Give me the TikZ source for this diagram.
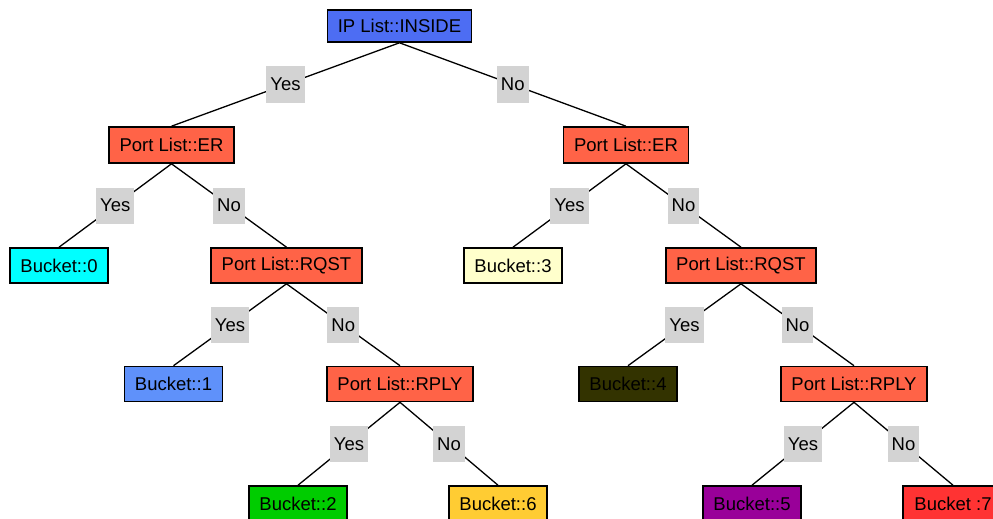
\documentclass[tikz,border=0pt]{standalone}
\usepackage{fontspec}
\setmainfont{Liberation Sans}
\definecolor{rootblue}{RGB}{77,109,243}
\definecolor{testred}{RGB}{255,99,71}
\definecolor{lblgray}{RGB}{211,211,211}
\definecolor{bcyan}{RGB}{0,255,255}
\definecolor{bblue}{RGB}{95,145,250}
\definecolor{bgreen}{RGB}{0,204,0}
\definecolor{bcream}{RGB}{255,255,204}
\definecolor{bolive}{RGB}{51,51,0}
\definecolor{bpurple}{RGB}{153,0,153}
\definecolor{bgold}{RGB}{255,204,51}
\definecolor{bred}{RGB}{255,51,51}
\tikzset{
  box/.style={draw=black, line width=1.6pt, inner xsep=10.5pt, inner ysep=0pt,
    minimum height=35pt, font=\fontsize{18.5}{20}\selectfont, text=black},
  test/.style={box, fill=testred},
  lbl/.style={fill=lblgray, inner xsep=4pt, inner ysep=0pt, minimum height=36pt,
    font=\fontsize{18.5}{20}\selectfont, text=black},
  edge/.style={draw=black, line width=1.3pt}
}
\begin{document}
\begin{tikzpicture}[x=1pt, y=-1pt]
  \useasboundingbox (0,0) rectangle (993,519);
  % decision nodes
  \node[box, fill=rootblue, minimum height=32pt] (root) at (399.5,26) {IP List::INSIDE};
  \node[test, minimum height=36pt] (erL) at (171.5,145) {Port List::ER};
  \node[test, minimum height=36pt] (erR) at (626,145) {Port List::ER};
  \node[test] (rqL) at (286.5,265.5) {Port List::RQST};
  \node[test] (rqR) at (741,265.5) {Port List::RQST};
  \node[test] (rpL) at (400,384) {Port List::RPLY};
  \node[test] (rpR) at (854,384) {Port List::RPLY};
  % leaves
  \node[box, fill=bcyan]   (b0) at (59,265.5)  {Bucket::0};
  \node[box, fill=bcream]  (b3) at (513,265.5) {Bucket::3};
  \node[box, fill=bblue]   (b1) at (173.5,384) {Bucket::1};
  \node[box, fill=bolive]  (b4) at (628,384)   {Bucket::4};
  \node[box, fill=bgreen]  (b2) at (298,503.5) {Bucket::2};
  \node[box, fill=bgold]   (b6) at (498,503.5) {Bucket::6};
  \node[box, fill=bpurple] (b5) at (752,503.5) {Bucket::5};
  \node[box, fill=bred, minimum width=100pt] (b7) at (953,503.5) {Bucket :7};
  % branches with their answers
  \draw[edge] (root.south) -- node[lbl] (y1) {Yes} (erL.north);
  \draw[edge] (root.south) -- node[lbl] (n1) {No} (erR.north);
  \draw[edge] (erL.south) -- node[lbl] (y2) {Yes} (b0.north);
  \draw[edge] (erL.south) -- node[lbl] (n2) {No} (rqL.north);
  \draw[edge] (erR.south) -- node[lbl] (y3) {Yes} (b3.north);
  \draw[edge] (erR.south) -- node[lbl] (n3) {No} (rqR.north);
  \draw[edge] (rqL.south) -- node[lbl] (y4) {Yes} (b1.north);
  \draw[edge] (rqL.south) -- node[lbl] (n4) {No} (rpL.north);
  \draw[edge] (rqR.south) -- node[lbl] (y5) {Yes} (b4.north);
  \draw[edge] (rqR.south) -- node[lbl] (n5) {No} (rpR.north);
  \draw[edge] (rpL.south) -- node[lbl] (y6) {Yes} (b2.north);
  \draw[edge] (rpL.south) -- node[lbl] (n6) {No} (b6.north);
  \draw[edge] (rpR.south) -- node[lbl] (y7) {Yes} (b5.north);
  \draw[edge] (rpR.south) -- node[lbl] (n7) {No} (b7.north);
\end{tikzpicture}
\end{document}
